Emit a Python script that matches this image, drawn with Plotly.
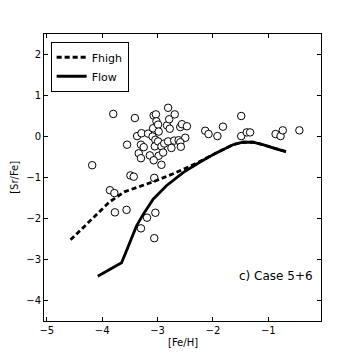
import plotly.graph_objects as go

# observed stars
star_feh = [-4.18, -3.80, -3.41, -3.37, -3.55, -3.29, -3.30, -3.25, -3.34, -3.30,
            -3.14, -3.17, -3.08, -3.07, -3.03, -3.02, -2.99, -3.09, -3.04, -3.05,
            -2.99, -2.98, -2.93, -2.88, -2.98, -3.07, -2.93, -2.90, -2.81, -2.83,
            -2.81, -2.78, -2.79, -2.69, -2.70, -2.75, -2.62, -2.59, -2.56, -2.47,
            -2.50, -2.59, -2.58, -3.06, -3.49, -3.43, -3.86, -3.78, -3.77, -3.56,
            -3.04, -3.19, -3.30, -3.06, -2.14, -2.08, -1.92, -1.82, -1.49, -1.49,
            -1.39, -1.33, -0.87, -0.78, -0.74, -0.44]
star_srfe = [-0.70, 0.55, 0.45, 0.01, -0.20, 0.08, -0.20, -0.26, -0.41, -0.53,
             -0.46, 0.07, 0.20, 0.51, 0.54, 0.37, 0.29, 0.00, -0.08, -0.24,
             -0.12, 0.12, -0.24, -0.17, -0.47, -0.58, -0.69, -0.39, -0.12, 0.27,
             0.70, 0.19, 0.42, 0.54, -0.10, -0.28, -0.09, 0.23, 0.30, 0.25,
             -0.03, -0.14, -0.25, -1.01, -0.95, -0.98, -1.31, -1.38, -1.85, -1.79,
             -1.86, -1.98, -2.24, -2.48, 0.14, 0.06, 0.01, 0.24, 0.50, 0.01,
             0.10, 0.10, 0.06, 0.01, 0.15, 0.15]

# model tracks
fhigh_feh = [-4.57, -4.17, -3.87, -3.60, -3.33, -3.03, -2.67, -2.31, -1.95, -1.64, -1.46, -1.28, -1.10, -0.86, -0.68]
fhigh_srfe = [-2.52, -1.98, -1.60, -1.35, -1.23, -1.08, -0.88, -0.66, -0.41, -0.20, -0.14, -0.14, -0.20, -0.30, -0.37]

flow_feh = [-4.08, -3.65, -3.58, -3.50, -3.38, -3.26, -3.08, -2.84, -2.54, -2.24, -1.94, -1.64, -1.46, -1.28, -1.10, -0.86, -0.68]
flow_srfe = [-3.41, -3.08, -2.85, -2.59, -2.18, -1.90, -1.53, -1.20, -0.88, -0.63, -0.40, -0.20, -0.14, -0.14, -0.20, -0.30, -0.37]

x_ticks = [-5, -4, -3, -2, -1]
y_ticks = [-4, -3, -2, -1, 0, 1, 2]

fig = go.Figure()
fig.add_trace(go.Scatter(
    x=star_feh, y=star_srfe, mode="markers", showlegend=False,
    marker={"size": 7.5, "color": "white", "line": {"color": "black", "width": 1}},
))
fig.add_trace(go.Scatter(
    x=fhigh_feh, y=fhigh_srfe, mode="lines", name="Fhigh",
    line={"color": "black", "width": 2.8, "dash": "5px,3px"},
))
fig.add_trace(go.Scatter(
    x=flow_feh, y=flow_srfe, mode="lines", name="Flow",
    line={"color": "black", "width": 2.8},
))

fig.add_annotation(
    text="c) Case 5+6", x=0.978, y=0.157, xref="paper", yref="paper",
    xanchor="right", yanchor="middle", showarrow=False,
    font={"size": 12, "color": "black"},
)
# axis titles placed by hand to match the reference
fig.add_annotation(
    text="[Fe/H]", x=0.5, y=-0.05, xref="paper", yref="paper",
    xanchor="center", yanchor="top", showarrow=False, font={"size": 10},
)
fig.add_annotation(
    text="[Sr/Fe]", x=-0.08, y=0.5, xref="paper", yref="paper",
    xanchor="right", yanchor="middle", showarrow=False, textangle=-90, font={"size": 10},
)

axis_style = {
    "showline": True, "linecolor": "black", "linewidth": 1, "mirror": "ticks",
    "ticks": "inside", "ticklen": 4, "tickcolor": "black",
    "showgrid": False, "zeroline": False, "automargin": False,
    "tickfont": {"size": 10, "color": "black"},
}

# the page body has an 8px margin, so the figure is shrunk and shifted to compensate
fig.update_layout(
    width=341, height=341,
    margin={"l": 36, "r": 28, "t": 26, "b": 28},
    paper_bgcolor="white", plot_bgcolor="white",
    font={"family": "DejaVu Sans", "color": "black"},
    legend={
        "x": 0.024, "y": 0.973, "xanchor": "left", "yanchor": "top",
        "bordercolor": "black", "borderwidth": 1, "bgcolor": "white",
        "font": {"size": 11}, "itemwidth": 30, "tracegroupgap": 0,
    },
)
fig.update_xaxes(range=[-5.05, -0.05], tickvals=x_ticks,
                 ticktext=["\u22125", "\u22124", "\u22123", "\u22122", "\u22121"], **axis_style)
fig.update_yaxes(range=[-4.5, 2.5], tickvals=y_ticks,
                 ticktext=["\u22124", "\u22123", "\u22122", "\u22121", "0", "1", "2"], **axis_style)

fig.write_html("out.html")
